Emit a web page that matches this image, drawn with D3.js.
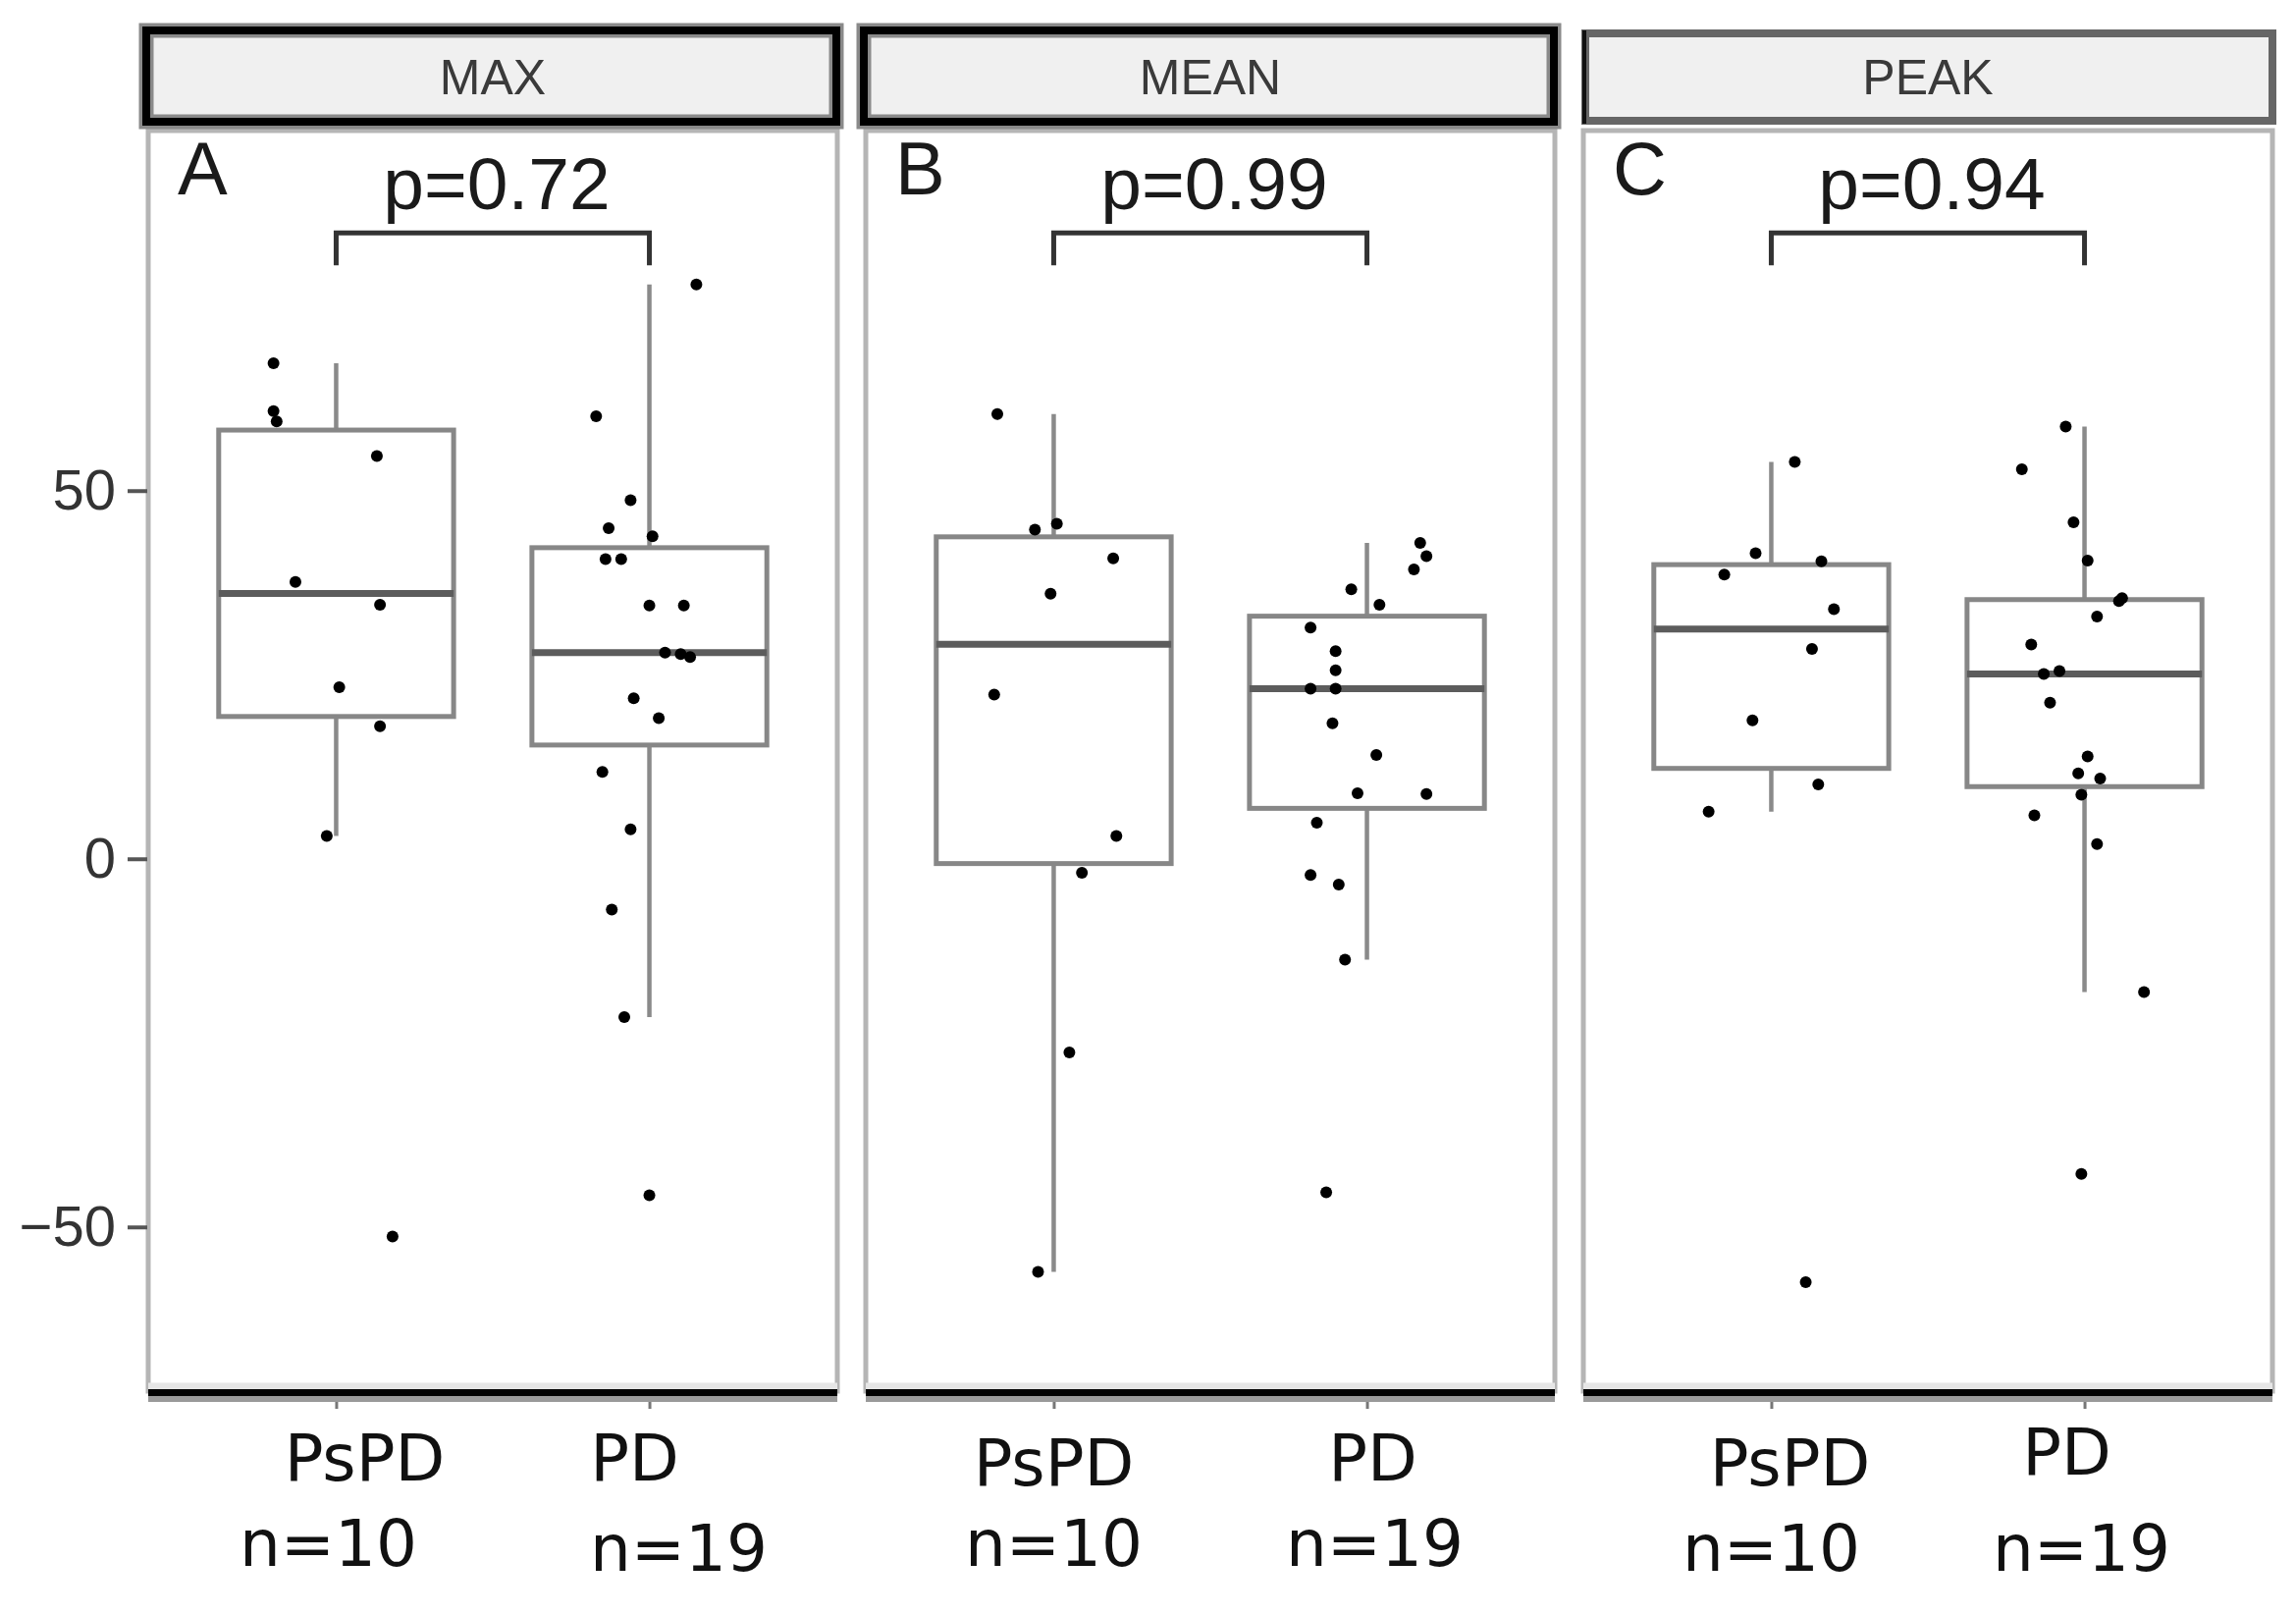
<!DOCTYPE html>
<html>
<head>
<meta charset="utf-8">
<script src="https://cdn.jsdelivr.net/npm/d3@7"></script>
<style>
  body { margin: 0; background: #fff; }
</style>
</head>
<body>
<div id="chart"></div>
<script>
// values
var groups = ["PsPD", "PD"];
var groupN = ["n=10", "n=19"];
var facets = ["MAX", "MEAN", "PEAK"];
var letters = ["A", "B", "C"];
var pLabels = ["p=0.72", "p=0.99", "p=0.94"];
var yTicks = [-50, 0, 50];

// MAX
var maxPsPD = [67.3, 60.8, 59.4, 54.7, 37.6, 34.5, 23.3, 18.0, 3.1, -51.3];
var maxPsPDJit = [-0.20, -0.20, -0.19, 0.13, -0.13, 0.14, 0.01, 0.14, -0.03, 0.18];
var maxPD = [78.0, 60.1, 48.7, 44.9, 43.8, 40.7, 40.7, 34.4, 34.4, 28.0, 27.8, 27.4, 21.8, 19.1, 11.8, 4.0, -6.9, -21.5, -45.7];
var maxPDJit = [0.15, -0.17, -0.06, -0.13, 0.01, -0.14, -0.09, 0.0, 0.11, 0.05, 0.10, 0.13, -0.05, 0.03, -0.15, -0.06, -0.12, -0.08, 0.0];

// MEAN
var meanPsPD = [60.4, 44.7, 45.5, 40.8, 36.0, 22.3, 3.1, -1.9, -26.3, -56.1];
var meanPsPDJit = [-0.18, -0.06, 0.01, 0.19, -0.01, -0.19, 0.20, 0.09, 0.05, -0.05];
var meanPD = [42.9, 41.1, 39.3, 36.6, 34.5, 31.4, 28.2, 25.6, 23.1, 23.1, 18.4, 14.1, 8.9, 8.8, 4.9, -2.2, -3.5, -13.7, -45.3];
var meanPDJit = [0.17, 0.19, 0.15, -0.05, 0.04, -0.18, -0.10, -0.10, -0.18, -0.10, -0.11, 0.03, -0.03, 0.19, -0.16, -0.18, -0.09, -0.07, -0.13];

// PEAK
var peakPsPD = [53.9, 41.5, 38.6, 40.4, 33.9, 28.5, 18.8, 10.1, 6.4, -57.5];
var peakPsPDJit = [0.075, -0.05, -0.15, 0.16, 0.20, 0.13, -0.06, 0.15, -0.20, 0.11];
var peakPD = [58.7, 52.9, 45.7, 40.5, 35.4, 35.0, 32.9, 29.1, 25.5, 25.1, 21.2, 13.9, 11.6, 10.9, 8.7, 5.9, 2.0, -18.1, -42.8];
var peakPDJit = [-0.06, -0.20, -0.035, 0.01, 0.12, 0.11, 0.04, -0.17, -0.08, -0.13, -0.11, 0.01, -0.02, 0.05, -0.01, -0.16, 0.04, 0.19, -0.01];

var panelValues = [[maxPsPD, maxPD], [meanPsPD, meanPD], [peakPsPD, peakPD]];
var panelJitter = [[maxPsPDJit, maxPDJit], [meanPsPDJit, meanPDJit], [peakPsPDJit, peakPDJit]];

// layout
var svgWidth = 2339, svgHeight = 1644;
var panelLeft = [151, 882, 1613];
var panelW = 702;
var plotTop = 133, plotBottom = 1417;
var stripTop = 31, stripBottom = 124;

// label nudges (px from group centre, baseline) - they were hand placed in the figure
var nameLayout = [[[29, 1508], [-15, 1508]], [[0, 1513], [6, 1508]], [[19, 1513], [-18, 1502]]];
var countLayout = [[[-8, 1595], [30, 1600]], [[0, 1595], [8, 1595]], [[0, 1600], [-3, 1600]]];

var sans = "'Liberation Sans', Arial, sans-serif";
var dejavu = "'DejaVu Sans', sans-serif";

var svg = d3.select("#chart")
  .append("svg")
  .attr("width", svgWidth)
  .attr("height", svgHeight);

var yScale = d3.scaleLinear()
  .domain([-72.3, 98.9])
  .range([plotBottom, plotTop]);

function boxStats(v) {
  var s = v.slice().sort(d3.ascending);
  var q1 = d3.quantileSorted(s, 0.25);
  var med = d3.quantileSorted(s, 0.5);
  var q3 = d3.quantileSorted(s, 0.75);
  var iqr = q3 - q1;
  var lo = d3.min(s.filter(d => d >= q1 - 1.5 * iqr));
  var hi = d3.max(s.filter(d => d <= q3 + 1.5 * iqr));
  return {q1: q1, med: med, q3: q3, lo: lo, hi: hi};
}

facets.forEach(function(facet, i) {
  var left = panelLeft[i];
  var g = svg.append("g");

  var xScale = d3.scalePoint()
    .domain(groups)
    .range([left, left + panelW])
    .padding(0.6);
  var step = xScale.step();
  var boxW = 0.75 * step;

  // panel border (left / right)
  g.append("rect")
    .attr("x", left)
    .attr("y", plotTop)
    .attr("width", panelW)
    .attr("height", plotBottom - plotTop)
    .attr("fill", "#fff")
    .attr("stroke", "#b5b5b5")
    .attr("stroke-width", 5);

  // strip
  if (i < 2) {
    g.append("rect")
      .attr("x", left - 2).attr("y", stripTop)
      .attr("width", panelW + 1).attr("height", stripBottom - stripTop)
      .attr("fill", "#f0f0f0")
      .attr("stroke", "#8a8a8a")
      .attr("stroke-width", 15);
    g.append("rect")
      .attr("x", left - 2).attr("y", stripTop)
      .attr("width", panelW + 1).attr("height", stripBottom - stripTop)
      .attr("fill", "none")
      .attr("stroke", "#000")
      .attr("stroke-width", 8);
  } else {
    g.append("rect")
      .attr("x", left + 2).attr("y", stripTop + 3)
      .attr("width", panelW - 2).attr("height", stripBottom - stripTop - 4)
      .attr("fill", "#f0f0f0")
      .attr("stroke", "#666")
      .attr("stroke-width", 8);
    g.append("line")
      .attr("x1", left + 1).attr("x2", left + 1)
      .attr("y1", stripTop).attr("y2", stripBottom + 2)
      .attr("stroke", "#111").attr("stroke-width", 4);
  }
  g.append("text")
    .attr("x", left + panelW / 2)
    .attr("y", 96)
    .attr("text-anchor", "middle")
    .attr("font-family", sans)
    .attr("font-size", "50px")
    .attr("fill", "#3a3a3a")
    .text(facet);

  // boxes
  groups.forEach(function(grp, j) {
    var vals = panelValues[i][j];
    var jit = panelJitter[i][j];
    var st = boxStats(vals);
    var cx = xScale(grp);

    g.append("line")
      .attr("x1", cx).attr("x2", cx)
      .attr("y1", yScale(st.hi)).attr("y2", yScale(st.q3))
      .attr("stroke", "#8a8a8a").attr("stroke-width", 4.5);
    g.append("line")
      .attr("x1", cx).attr("x2", cx)
      .attr("y1", yScale(st.q1)).attr("y2", yScale(st.lo))
      .attr("stroke", "#8a8a8a").attr("stroke-width", 4.5);
    g.append("rect")
      .attr("x", cx - boxW / 2)
      .attr("y", yScale(st.q3))
      .attr("width", boxW)
      .attr("height", yScale(st.q1) - yScale(st.q3))
      .attr("fill", "#fff")
      .attr("stroke", "#878787")
      .attr("stroke-width", 5);
    g.append("line")
      .attr("x1", cx - boxW / 2).attr("x2", cx + boxW / 2)
      .attr("y1", yScale(st.med)).attr("y2", yScale(st.med))
      .attr("stroke", "#5c5c5c").attr("stroke-width", 7);

    g.append("g")
      .selectAll("circle")
      .data(vals)
      .enter()
      .append("circle")
      .attr("cx", (d, k) => cx + jit[k] * step)
      .attr("cy", d => yScale(d))
      .attr("r", 6)
      .attr("fill", "#000");

    // x labels
    g.append("text")
      .attr("x", cx + nameLayout[i][j][0])
      .attr("y", nameLayout[i][j][1])
      .attr("text-anchor", "middle")
      .attr("font-family", dejavu)
      .attr("font-size", "66px")
      .attr("fill", "#111")
      .text(grp);
    g.append("text")
      .attr("x", cx + countLayout[i][j][0])
      .attr("y", countLayout[i][j][1])
      .attr("text-anchor", "middle")
      .attr("font-family", dejavu)
      .attr("font-size", "66px")
      .attr("fill", "#111")
      .text(groupN[j]);
  });

  // bracket + p value
  var x1 = xScale(groups[0]), x2 = xScale(groups[1]);
  g.append("path")
    .attr("d", `M${x1},${yScale(80.6)}V${yScale(85)}H${x2}V${yScale(80.6)}`)
    .attr("fill", "none")
    .attr("stroke", "#333")
    .attr("stroke-width", 5);
  g.append("text")
    .attr("x", (x1 + x2) / 2 + 4)
    .attr("y", yScale(88.2))
    .attr("text-anchor", "middle")
    .attr("font-family", sans)
    .attr("font-size", "75px")
    .attr("fill", "#1a1a1a")
    .text(pLabels[i]);

  // panel letter
  g.append("text")
    .attr("x", left + 30)
    .attr("y", 198)
    .attr("font-family", sans)
    .attr("font-size", "76px")
    .attr("fill", "#1a1a1a")
    .text(letters[i]);

  // x axis ticks
  var xAxis = d3.axisBottom(xScale).tickSize(14).tickFormat("");
  var xg = g.append("g")
    .attr("transform", `translate(0, ${plotBottom + 4})`)
    .call(xAxis);
  xg.select(".domain").remove();
  xg.selectAll(".tick line").attr("stroke", "#777").attr("stroke-width", 3);

  // bottom axis line
  g.append("line")
    .attr("x1", left).attr("x2", left + panelW)
    .attr("y1", plotBottom - 5).attr("y2", plotBottom - 5)
    .attr("stroke", "#e6e6e6").attr("stroke-width", 7);
  g.append("line")
    .attr("x1", left).attr("x2", left + panelW)
    .attr("y1", plotBottom + 8).attr("y2", plotBottom + 8)
    .attr("stroke", "#999").attr("stroke-width", 6);
  g.append("line")
    .attr("x1", left).attr("x2", left + panelW)
    .attr("y1", plotBottom + 1.5).attr("y2", plotBottom + 1.5)
    .attr("stroke", "#000").attr("stroke-width", 7);

  // y axis on the first panel only
  if (i === 0) {
    var yAxis = d3.axisLeft(yScale)
      .tickValues(yTicks)
      .tickSize(20)
      .tickPadding(12)
      .tickFormat(d => d < 0 ? "\u2212" + Math.abs(d) : d);
    var yg = g.append("g")
      .attr("transform", `translate(${left - 1}, 0)`)
      .call(yAxis);
    yg.select(".domain").remove();
    yg.selectAll(".tick line").attr("stroke", "#555").attr("stroke-width", 4);
    yg.selectAll(".tick text")
      .attr("font-family", sans)
      .attr("font-size", "58px")
      .attr("fill", "#333");
  }
});
</script>
</body>
</html>
